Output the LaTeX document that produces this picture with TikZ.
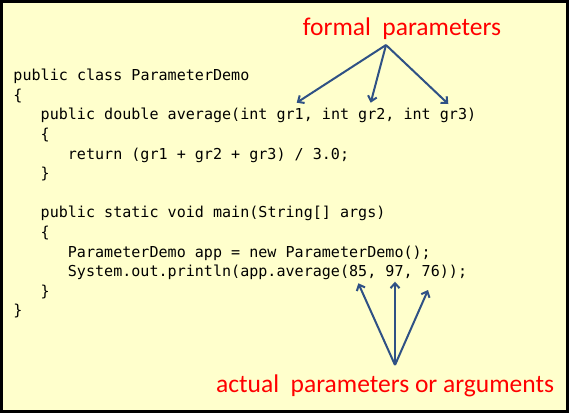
\documentclass[tikz,border=0pt]{standalone}
\usepackage{fontspec}
\usetikzlibrary{arrows.meta}
\newfontfamily\codefont{DejaVu Sans Mono}
\newfontfamily\labelfont{Carlito}
\definecolor{notebg}{HTML}{FFFFCC}
\definecolor{arrowblue}{HTML}{2F5185}

\begin{document}
\begin{tikzpicture}[x=1bp, y=-1bp,
    code/.style={anchor=base west, inner sep=0pt, font=\codefont\fontsize{15.07bp}{19.6bp}\selectfont},
    note/.style={anchor=base west, inner sep=0pt, text=red, font=\labelfont\fontsize{25.5bp}{30bp}\selectfont},
    pointer/.style={-{Straight Barb[length=5bp,width=9bp]}, line width=2bp, arrowblue}]
  \useasboundingbox (0,0) rectangle (569,413);
  \fill[notebg] (0,0) rectangle (569,413);
  \draw[line width=3bp] (1.5,1.5) rectangle (567.5,411.5);

  \node[code] (l0) at (13.3,80.7) {public class ParameterDemo};
  \node[code] (l1) at (13.3,100.3) {\{};
  \node[code] (l2) at (40.5,119.9) {public double average(int gr1, int gr2, int gr3)};
  \node[code] (l3) at (40.5,139.5) {\{};
  \node[code] (l4) at (67.7,159.1) {return (gr1 + gr2 + gr3) / 3.0;};
  \node[code] (l5) at (40.5,178.7) {\}};
  \node[code] (l7) at (40.5,217.9) {public static void main(String[] args)};
  \node[code] (l8) at (40.5,237.5) {\{};
  \node[code] (l9) at (67.7,257.1) {ParameterDemo app = new ParameterDemo();};
  \node[code] (l10) at (67.7,276.7) {System.out.println(app.average(85, 97, 76));};
  \node[code] (l11) at (40.5,296.3) {\}};
  \node[code] (l12) at (13.3,315.9) {\}};

  \node[note] (formal) at (302.7,35) {formal\ \ parameters};
  \node[note] (actual) at (216,392.3) {actual\ \ parameters or arguments};

  \coordinate (fp) at (386,45);
  \coordinate (gr1) at (296.7,102.7);
  \coordinate (gr2) at (370.7,102.7);
  \coordinate (gr3) at (448.3,104);
  \coordinate (ap) at (395,365);
  \coordinate (a85) at (358.3,283.3);
  \coordinate (a97) at (395,281.7);
  \coordinate (a76) at (428,290);

  \draw[pointer] (fp) -- (gr1);
  \draw[pointer] (fp) -- (gr2);
  \draw[pointer] (fp) -- (gr3);
  \draw[pointer] (ap) -- (a85);
  \draw[pointer] (ap) -- (a97);
  \draw[pointer] (ap) -- (a76);
\end{tikzpicture}
\end{document}
